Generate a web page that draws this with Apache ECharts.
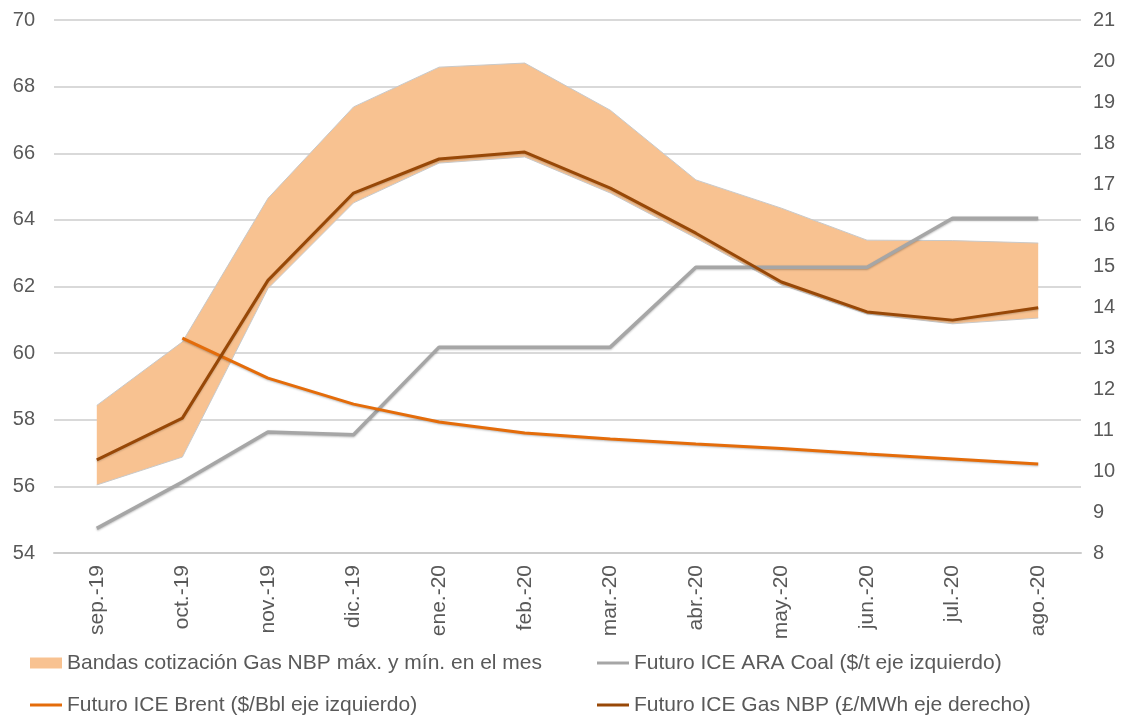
<!DOCTYPE html>
<html>
<head>
<meta charset="utf-8">
<script src="https://cdn.jsdelivr.net/npm/echarts@6/dist/echarts.min.js"></script>
<style>
html,body{margin:0;padding:0;background:#fff;}
#chart{width:1128px;height:717px;}
</style>
</head>
<body>
<div id="chart"></div>
<script>
const categories = ['sep.-19','oct.-19','nov.-19','dic.-19','ene.-20','feb.-20','mar.-20','abr.-20','may.-20','jun.-20','jul.-20','ago.-20'];
const bandMax = [11.6, 13.15, 16.65, 18.88, 19.85, 19.95, 18.8, 17.1, 16.41, 15.63, 15.62, 15.56];
const bandMin = [9.66, 10.34, 14.45, 16.54, 17.51, 17.66, 16.78, 15.68, 14.54, 13.83, 13.59, 13.73];
const gasNBP = [10.27, 11.29, 14.65, 16.78, 17.61, 17.78, 16.9, 15.8, 14.61, 13.88, 13.68, 13.98];
const coal = [54.74, 56.13, 57.63, 57.55, 60.18, 60.18, 60.18, 62.58, 62.58, 62.58, 64.05, 64.05];
const brent = [null, 60.45, 59.25, 58.47, 57.93, 57.6, 57.42, 57.27, 57.14, 56.97, 56.82, 56.67];
const leftTicks = {min: 54, max: 70, interval: 2};
const rightTicks = {min: 8, max: 21, interval: 1};

const names = {
  band: 'Bandas cotización Gas NBP máx. y mín. en el mes',
  coal: 'Futuro ICE ARA Coal ($/t eje izquierdo)',
  brent: 'Futuro ICE Brent ($/Bbl eje izquierdo)',
  gas: 'Futuro ICE Gas NBP (£/MWh eje derecho)'
};
const bandDiff = bandMax.map((v, i) => +(v - bandMin[i]).toFixed(3));

const FONT = '"Liberation Sans", Arial, sans-serif';
const TXT = '#595959';
const legendText = {fontSize: 21, color: TXT, fontFamily: FONT, lineHeight: 24};
function mkLegend(name, left, top, h) {
  return {data: [name], left: left, top: top, icon: 'rect', itemWidth: 32, itemHeight: h,
    padding: 0, itemGap: 0, textStyle: legendText, selectedMode: false};
}

const chart = echarts.init(document.getElementById('chart'), null, {renderer: 'canvas'});
chart.setOption({
  animation: false,
  backgroundColor: '#fff',
  grid: {left: 54, right: 47, top: 20, bottom: 164},
  legend: [
    mkLegend(names.band, 30, 651, 11),
    mkLegend(names.coal, 597, 651, 3),
    mkLegend(names.brent, 30, 693, 3),
    mkLegend(names.gas, 597, 693, 3)
  ],
  xAxis: {
    type: 'category', data: categories, boundaryGap: true,
    axisLine: {show: true, lineStyle: {color: '#cccccc', width: 2}},
    axisTick: {show: false},
    axisLabel: {rotate: 90, fontSize: 21, color: TXT, fontFamily: FONT, margin: 12}
  },
  yAxis: [
    {type: 'value', min: leftTicks.min, max: leftTicks.max, interval: leftTicks.interval, position: 'left',
     axisLine: {show: false}, axisTick: {show: false},
     axisLabel: {fontSize: 20, color: TXT, fontFamily: FONT, margin: 19},
     splitLine: {show: true, lineStyle: {color: '#cccccc', width: 1.5}}},
    {type: 'value', min: rightTicks.min, max: rightTicks.max, interval: rightTicks.interval, position: 'right',
     axisLine: {show: false}, axisTick: {show: false},
     axisLabel: {fontSize: 20, color: TXT, fontFamily: FONT, margin: 12},
     splitLine: {show: false}}
  ],
  series: [
    {name: 'bandBase', type: 'line', yAxisIndex: 1, stack: 'band', data: bandMin,
     showSymbol: false, symbol: 'none', lineStyle: {color: '#c9c9c9', width: 1}, z: 1},
    {name: names.band, type: 'line', yAxisIndex: 1, stack: 'band', data: bandDiff,
     showSymbol: false, symbol: 'none', lineStyle: {color: '#c9c9c9', width: 1},
     itemStyle: {color: '#F8C291'},
     areaStyle: {color: '#F8C291', opacity: 1}, z: 1},
    {name: names.coal, type: 'line', yAxisIndex: 0, data: coal, showSymbol: false, symbol: 'none',
     itemStyle: {color: '#A6A6A6'},
     lineStyle: {color: '#A6A6A6', width: 3.5, shadowColor: 'rgba(0,0,0,0.25)', shadowBlur: 2, shadowOffsetY: 1}, z: 3},
    {name: names.brent, type: 'line', yAxisIndex: 0, data: brent, showSymbol: false, symbol: 'none',
     itemStyle: {color: '#E46C0A'},
     lineStyle: {color: '#E46C0A', width: 3, shadowColor: 'rgba(0,0,0,0.25)', shadowBlur: 2, shadowOffsetY: 1}, z: 4},
    {name: names.gas, type: 'line', yAxisIndex: 1, data: gasNBP, showSymbol: false, symbol: 'none',
     itemStyle: {color: '#984807'},
     lineStyle: {color: '#984807', width: 3, shadowColor: 'rgba(0,0,0,0.2)', shadowBlur: 2, shadowOffsetY: 1}, z: 5}
  ]
});
</script>
</body>
</html>
